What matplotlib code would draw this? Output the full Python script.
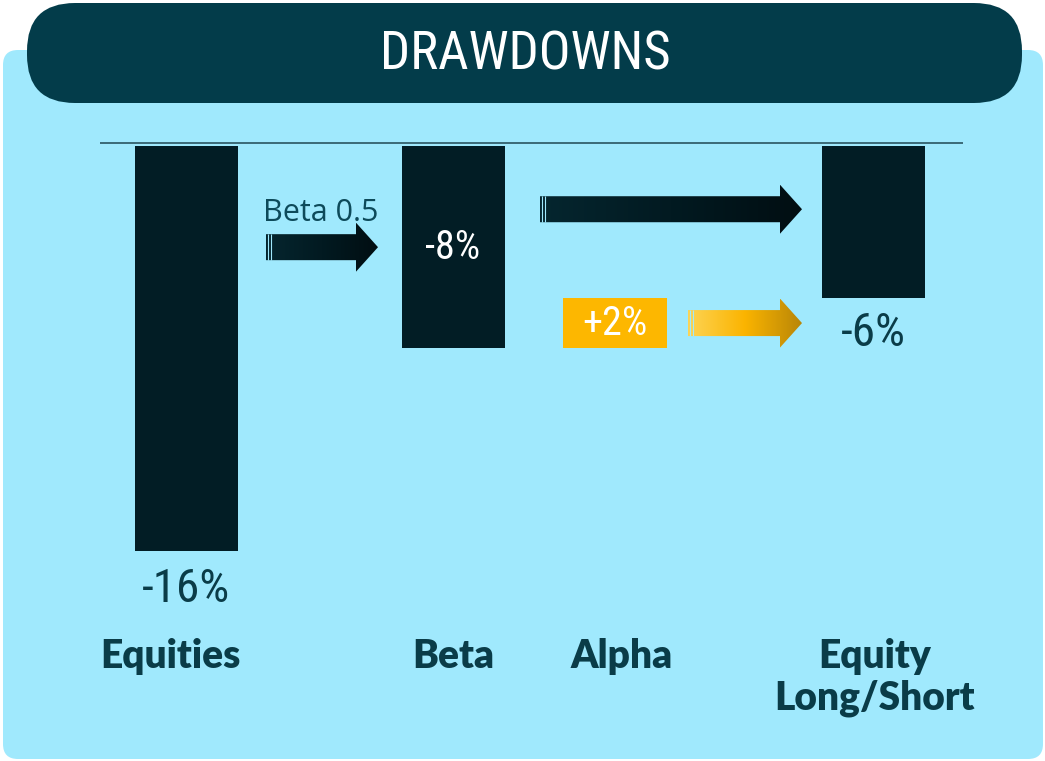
### drawdowns waterfall chart
# equities vs beta, alpha and equity long/short

import matplotlib.pyplot as plt
import numpy as np
from matplotlib import font_manager
from matplotlib.colors import LinearSegmentedColormap
from matplotlib.patches import FancyBboxPatch, Polygon

# chart data
categories = ['Equities', 'Beta', 'Alpha', 'Equity\nLong/Short']
drawdowns = [-16, -8, 2, -6]
value_labels = ['-16%', '-8%', '+2%', '-6%']
beta_label = 'Beta 0.5'
title = 'DRAWDOWNS'

# layout (pixels across, 1045 wide figure)
x_pos = [186, 453, 615, 873]
label_x = [170, 453, 622, 875]
bar_w = 103

# colours
panel_c = '#a0e9fd'
header_c = '#033c4a'
bar_c = '#021d25'
text_c = '#0a3c48'
gold_c = '#fdb700'

# pick installed fonts
installed = {f.name for f in font_manager.fontManager.ttflist}
def pick(*names):
    for n in names:
        if n in installed:
            return n
    return 'DejaVu Sans'

narrow = pick('Liberation Sans Narrow', 'Roboto Condensed', 'Open Sans Condensed', 'Open Sans')
sans = pick('Open Sans', 'Noto Sans', 'DejaVu Sans')
bold = pick('Lato', 'Inter', 'Open Sans')

fig = plt.figure(figsize = (10.45, 7.61), dpi = 100, facecolor = 'white')

# background axes in pixel units
bg = fig.add_axes([0, 0, 1, 1], zorder = 0)
bg.set_xlim(0, 1045)
bg.set_ylim(761, 0)
bg.axis('off')
bg.add_patch(FancyBboxPatch((3, 50), 1040, 709, boxstyle = 'round,pad=0,rounding_size=15',
                            facecolor = panel_c, edgecolor = 'none'))
bg.add_patch(FancyBboxPatch((27, 3), 995, 100, boxstyle = 'round,pad=0,rounding_size=48',
                            facecolor = header_c, edgecolor = 'none'))
bg.text(525, 55, title, ha = 'center', va = 'center', color = 'white',
        fontsize = 38, family = narrow)

# chart axes: x in pixels, y in percent
ylim = (-24.31, 5.77)
ax = fig.add_axes([0, 0, 1, 1], zorder = 1)
ax.patch.set_alpha(0)
px = (ylim[1] - ylim[0]) / 761

# baseline
ax.hlines(3 * px, 100, 963, color = '#2a5560', lw = 1.2, zorder = 1)

# bars
for i in (0, 1, 3):
    ax.bar(x_pos[i], drawdowns[i], width = bar_w, color = bar_c, zorder = 2)
ax.bar(x_pos[2], drawdowns[2], bottom = drawdowns[1], width = bar_w + 1,
       color = gold_c, zorder = 2)

# gradient arrows
def draw_arrow(x0, x1, yc, colors):
    sh, hh, hl = 26 * px, 49 * px, 22
    pts = [(x0, yc + sh / 2), (x1 - hl, yc + sh / 2), (x1 - hl, yc + hh / 2), (x1, yc),
           (x1 - hl, yc - hh / 2), (x1 - hl, yc - sh / 2), (x0, yc - sh / 2)]
    poly = Polygon(pts, closed = True, facecolor = 'none', edgecolor = 'none')
    ax.add_patch(poly)
    cmap = LinearSegmentedColormap.from_list('grad', colors)
    grad = np.linspace(0, 1, 256).reshape(1, -1)
    im = ax.imshow(grad, cmap = cmap, extent = [x0, x1, yc - hh / 2, yc + hh / 2],
                   aspect = 'auto', zorder = 3)
    im.set_clip_path(poly)
    for dx in (2, 5):
        ax.vlines(x0 + dx, yc - sh / 2, yc + sh / 2, color = panel_c, lw = 0.8, zorder = 4)

dark = ['#05262f', '#021a21', '#010e12']
gold = ['#fdd455', '#fbb400', '#b88608']
draw_arrow(266, 378, drawdowns[1] / 2, dark)
draw_arrow(540, 802, -2.5, dark)
draw_arrow(688, 802, drawdowns[1] + drawdowns[2] / 2, gold)

# text labels
ax.text(321, -2.95, beta_label, ha = 'center', va = 'baseline', color = '#0d4a5a',
        fontsize = 22, family = sans)
ax.text(x_pos[0], drawdowns[0] - 1.5, value_labels[0], ha = 'center', va = 'center',
        color = text_c, fontsize = 34, family = narrow)
ax.text(x_pos[1], drawdowns[1] / 2, value_labels[1], ha = 'center', va = 'center',
        color = 'white', fontsize = 29, family = narrow)
ax.text(x_pos[2], drawdowns[1] + drawdowns[2] / 2, value_labels[2], ha = 'center',
        va = 'center', color = 'white', fontsize = 29, family = narrow)
ax.text(x_pos[3], drawdowns[3] - 1.4, value_labels[3], ha = 'center', va = 'center',
        color = text_c, fontsize = 34, family = narrow)

for x, name in zip(label_x, categories):
    ax.text(x, -19.45, name, ha = 'center', va = 'top', color = text_c, fontsize = 28,
            family = bold, fontweight = 'heavy', linespacing = 1.15)

ax.set_xlim(0, 1045)
ax.set_ylim(*ylim)
ax.axis('off')

fig.savefig('out.png', dpi = 100, facecolor = 'white')
